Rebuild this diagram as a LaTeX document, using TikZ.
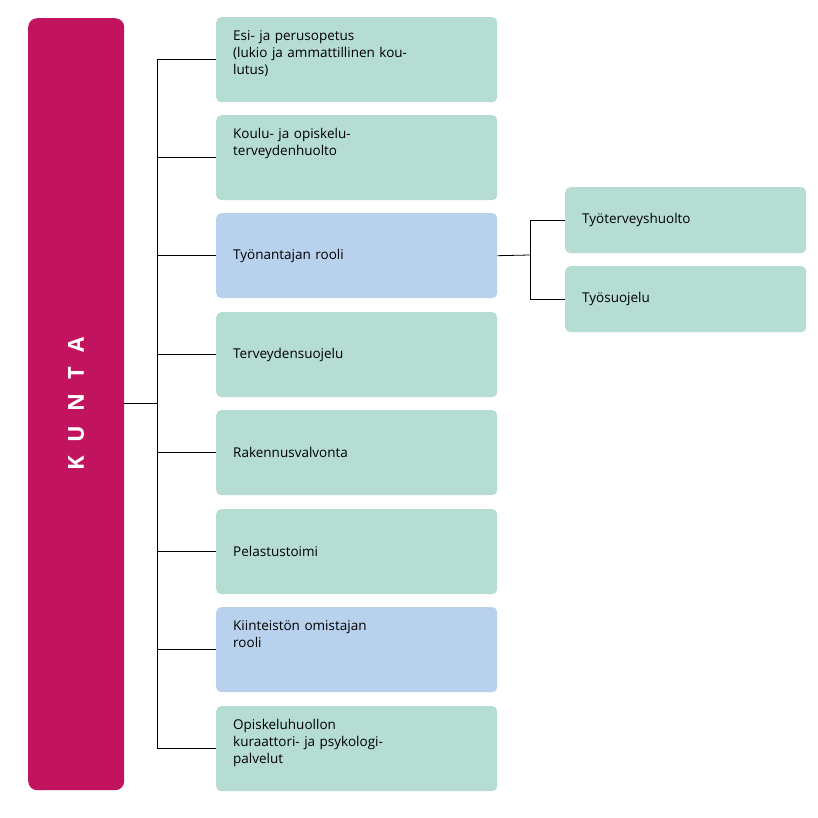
\documentclass[tikz,border=0pt]{standalone}
\usepackage{fontspec}
\setmainfont{Open Sans}
\definecolor{kunta}{HTML}{C2135F}
\definecolor{vihrea}{HTML}{B5DDD3}
\definecolor{sininen}{HTML}{B8D2EE}
\begin{document}
\begin{tikzpicture}[x=1pt,y=-1pt,
    every node/.style={inner sep=0pt},
    lohko/.style={rectangle, rounded corners=5pt, minimum width=281pt, minimum height=85pt, anchor=north west},
    teksti/.style={anchor=north west, align=left, text width=270pt, font=\fontsize{13.5}{17}\selectfont},
    pieni/.style={rectangle, rounded corners=5pt, minimum width=241pt, minimum height=66pt, anchor=north west},
    viiva/.style={draw=black, line width=0.8pt}]
  \useasboundingbox (0,0) rectangle (818,818);
  % kunta
  \node (kunta) [rectangle, rounded corners=9pt, fill=kunta, minimum width=96pt, minimum height=772pt, anchor=north west] at (28,18) {};
  \node [rotate=90, text=white, font=\fontsize{22}{22}\selectfont\bfseries] at (kunta.center) {K\hspace{14pt}U\hspace{14pt}N\hspace{14pt}T\hspace{14pt}A};
  % boxes
  \foreach \n/\y/\c/\t in {1/17/vihrea/{Esi- ja perusopetus\\(lukio ja ammattillinen kou-\\lutus)},
      2/115/vihrea/{Koulu- ja opiskelu-\\terveydenhuolto},
      3/213/sininen/{Työnantajan rooli},
      4/312/vihrea/{Terveydensuojelu},
      5/410/vihrea/{Rakennusvalvonta},
      6/509/vihrea/{Pelastustoimi},
      7/607/sininen/{Kiinteistön omistajan\\rooli},
      8/706/vihrea/{Opiskeluhuollon\\kuraattori- ja psykologi-\\palvelut}} {
    \node (b\n) [lohko, fill=\c] at (216,\y) {};
  }
  \node [teksti] at (233,\the\numexpr17+13\relax) {Esi- ja perusopetus\\(lukio ja ammattillinen kou-\\lutus)};
  \node [teksti] at (233,128) {Koulu- ja opiskelu-\\terveydenhuolto};
  \node [teksti, anchor=west] at (233,255.5) {Työnantajan rooli};
  \node [teksti, anchor=west] at (233,354.5) {Terveydensuojelu};
  \node [teksti, anchor=west] at (233,452.5) {Rakennusvalvonta};
  \node [teksti, anchor=west] at (233,551.5) {Pelastustoimi};
  \node [teksti] at (233,620) {Kiinteistön omistajan\\rooli};
  \node [teksti] at (233,719) {Opiskeluhuollon\\kuraattori- ja psykologi-\\palvelut};
  % right boxes
  \node (tth) [pieni, fill=vihrea] at (565,187) {};
  \node [teksti, anchor=west] at (582,220) {Työterveyshuolto};
  \node (tsu) [pieni, fill=vihrea] at (565,266) {};
  \node [teksti, anchor=west] at (582,299) {Työsuojelu};
  % connectors
  \coordinate (runko) at (157,403);
  \draw [viiva] (kunta.east |- runko) -- (runko);
  \draw [viiva] (b1.west -| runko) -- (b8.west -| runko);
  \foreach \n in {1,...,8}
    \draw [viiva] (b\n.west -| runko) -- (b\n.west);
  \coordinate (haara) at (530,255);
  \draw [viiva] (b3.east) -- (haara);
  \draw [viiva] (tth.west -| haara) -- (tsu.west -| haara);
  \draw [viiva] (tth.west -| haara) -- (tth.west);
  \draw [viiva] (tsu.west -| haara) -- (tsu.west);
\end{tikzpicture}
\end{document}
